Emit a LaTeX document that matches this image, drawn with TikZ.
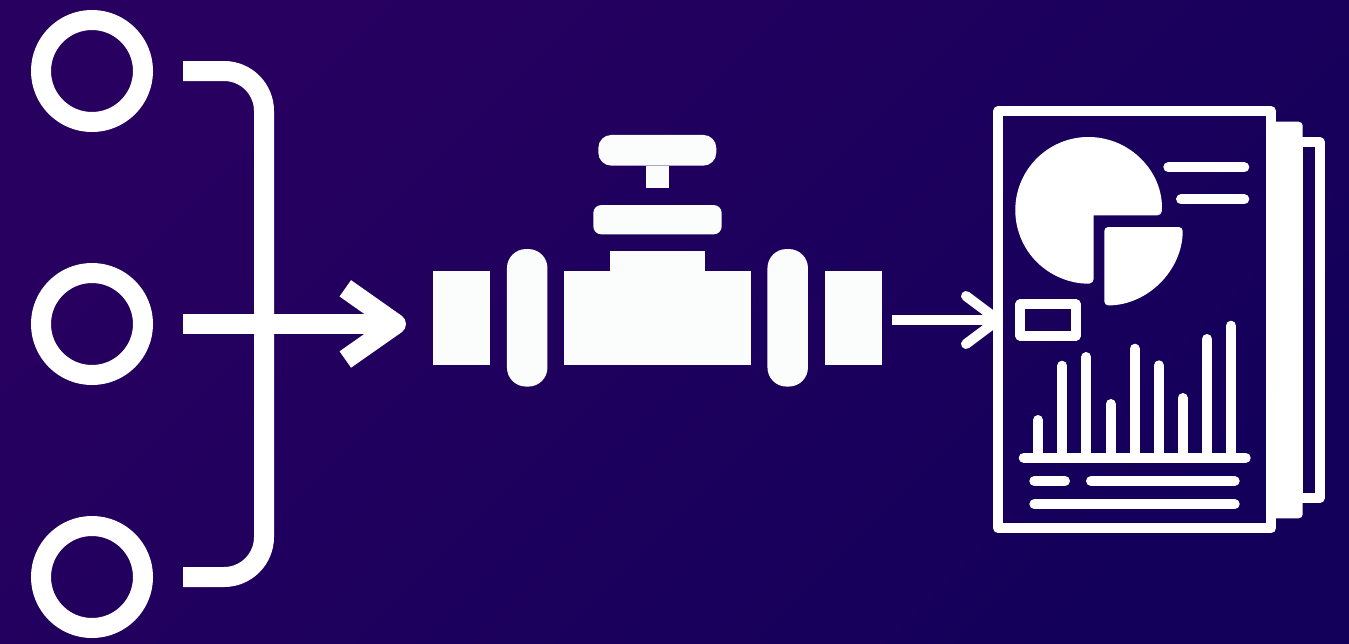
\documentclass[tikz,border=0pt]{standalone}
\definecolor{bgA}{HTML}{280060}
\definecolor{bgB}{HTML}{13005A}
\definecolor{valvewhite}{HTML}{FBFDFD}
\begin{document}
\begin{tikzpicture}[
  x=1pt, y=-1pt,
  port/.style={draw=white, line width=20pt, circle, minimum size=102pt, inner sep=0pt},
  pipe/.style={draw=white, line width=20pt},
  thin line/.style={draw=white, line width=10pt, line cap=round},
  frame/.style={draw=white, line width=10pt, line join=round, inner sep=0pt},
  valve part/.style={fill=valvewhite, inner sep=0pt, outer sep=0pt},
  flange/.style={valve part, rounded corners=19pt, minimum width=40.5pt, minimum height=137.5pt},
  stub/.style={valve part, minimum width=57pt, minimum height=94.5pt}
]
\useasboundingbox (0,0) rectangle (1349,643);
\shade[top color=bgA, bottom color=bgB, shading angle=45] (0,0) rectangle (1349,643);

\node[port] (inA) at (92,71) {};
\node[port] (inB) at (92,324) {};
\node[port] (inC) at (92,577) {};

\coordinate (busA) at (183,71);
\coordinate (busB) at (183,324);
\coordinate (busC) at (183,577);
\coordinate (headTip) at (396,324);
\draw[pipe, rounded corners=40pt] (busA) -- (264,71) -- (264,577) -- (busC);
\draw[pipe] (busB) -- (headTip);
\draw[pipe, line join=round] (345.3,288.3) -- (headTip) -- (345.3,359.5);

\node[stub] (stubL) at (461.5,317.8) {};
\node[flange] (flangeL) at (527.2,317.8) {};
\node[valve part, minimum width=186.4pt, minimum height=94.5pt] (body) at (657.5,317.8) {};
\node[valve part, minimum width=94.4pt, minimum height=20pt, anchor=south] (bonnet) at (body.north) {};
\node[flange] (flangeR) at (787.7,317.8) {};
\node[stub] (stubR) at (853.5,317.8) {};
\node[valve part, rounded corners=8pt, minimum width=128.4pt, minimum height=29.3pt] (packing) at (657.5,219.7) {};
\node[valve part, minimum width=23.6pt, minimum height=22pt] (stem) at (657.5,176.7) {};
\node[valve part, rounded corners=13pt, minimum width=118pt, minimum height=30.7pt] (handle) at (657.3,150.3) {};

\node[frame, minimum width=22pt, minimum height=356pt] (sheetC) at (1308.7,320) {};
\fill[white, rounded corners=4pt] (1266,121.7) rectangle (1302.7,518.3);
\node[frame, minimum width=272.7pt, minimum height=417.3pt] (sheetA) at (1134.65,319.65) {};

\coordinate (feedOut) at (892,320);
\coordinate (feedIn) at (998,320);
\draw[draw=white, line width=10pt] (feedOut) -- (feedIn);
\draw[thin line, line join=round] (966,296) -- (feedIn) -- (966,344);

\fill[white, rounded corners=4pt] (1093.7,215.3) -- (1161.5,215.3) arc[start angle=-4, end angle=274, radius=73.2pt] -- (1093.7,215.3);
\fill[white, rounded corners=4pt] (1104.3,260) -- (1104.3,227) -- (1182.7,227) arc[start angle=0, end angle=-90, radius=78.4pt] -- cycle;
\draw[thin line] (1168.3,167.3) -- (1244.3,167.3) (1181,199.3) -- (1244.3,199.3);
\node[frame, minimum width=55.4pt, minimum height=31.4pt] (legendBox) at (1048,320) {};

\draw[thin line] (1038,457.7) -- (1038,420)
  (1062.3,457.7) -- (1062.3,365.7)
  (1086.3,457.7) -- (1086.3,357)
  (1110.7,457.7) -- (1110.7,404)
  (1134.7,457.7) -- (1134.7,348.7)
  (1158.7,457.7) -- (1158.7,365.3)
  (1182.7,457.7) -- (1182.7,398)
  (1207,457.7) -- (1207,339)
  (1231,457.7) -- (1231,325.7);
\draw[thin line] (1023.7,457.7) -- (1245.7,457.7);
\draw[thin line] (1034.3,481) -- (1065,481) (1091,481) -- (1234.7,481);
\draw[thin line] (1034.3,504.3) -- (1234.7,504.3);
\end{tikzpicture}
\end{document}
